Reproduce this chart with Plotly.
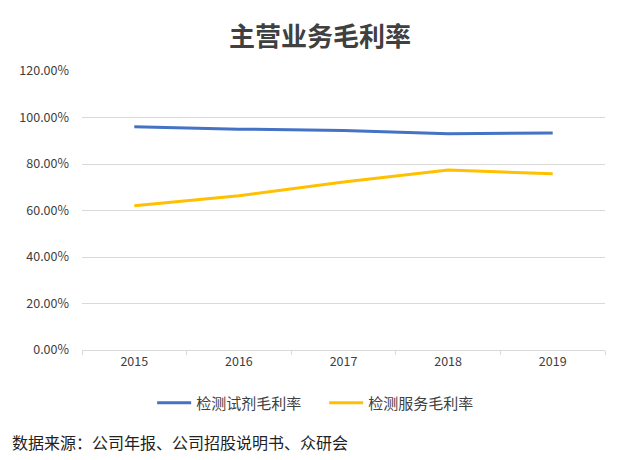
import plotly.graph_objects as go

years = ["2015", "2016", "2017", "2018", "2019"]
reagent_margin = [0.960, 0.950, 0.944, 0.930, 0.933]
service_margin = [0.620, 0.663, 0.723, 0.774, 0.758]
y_ticks = [0, 0.2, 0.4, 0.6, 0.8, 1.0, 1.2]

FONT = "Noto Sans CJK SC"

fig = go.Figure()
fig.add_trace(go.Scatter(x=years, y=reagent_margin, mode="lines", name="检测试剂毛利率",
                         line=dict(color="#4472C4", width=3)))
fig.add_trace(go.Scatter(x=years, y=service_margin, mode="lines", name="检测服务毛利率",
                         line=dict(color="#FFC000", width=3)))

fig.update_layout(
    width=640, height=460,
    margin=dict(l=82, r=35, t=71, b=110),
    paper_bgcolor="white", plot_bgcolor="white",
    font=dict(family=FONT, color="#595959", size=12),
    title=dict(text="<b>主营业务毛利率</b>", x=0.5, xanchor="center", y=0.92, yanchor="middle",
               font=dict(family=FONT, size=26, color="#404040")),
    showlegend=True,
    legend=dict(orientation="h", x=0.463, xanchor="center", y=-0.19, yanchor="middle",
                font=dict(family=FONT, size=15, color="#404040"), itemwidth=34,
                entrywidth=123, entrywidthmode="pixels"),
    xaxis=dict(type="category", range=[-0.5, 4.5], showgrid=False, ticks="outside",
               tickson="boundaries", ticklen=4, tickcolor="#D9D9D9",
               showline=True, linecolor="#D9D9D9", tickfont=dict(size=12.5, color="#404040")),
    yaxis=dict(range=[0, 1.2], tickvals=y_ticks, tickformat=".2%", showgrid=True,
               gridcolor="#D9D9D9", zeroline=False, ticks="", ticklabelstandoff=12,
               tickfont=dict(size=12.5, color="#404040")),
    annotations=[dict(text="数据来源：公司年报、公司招股说明书、众研会", xref="paper", yref="paper",
                      x=-0.138, y=-0.33, xanchor="left", yanchor="middle", showarrow=False,
                      font=dict(family=FONT, size=16, color="#222222"))],
)
fig.update_xaxes(automargin=False)
fig.update_yaxes(automargin=False)
fig.write_html("out.html", config={"displayModeBar": False},
               post_script="document.body.style.margin='0';")
